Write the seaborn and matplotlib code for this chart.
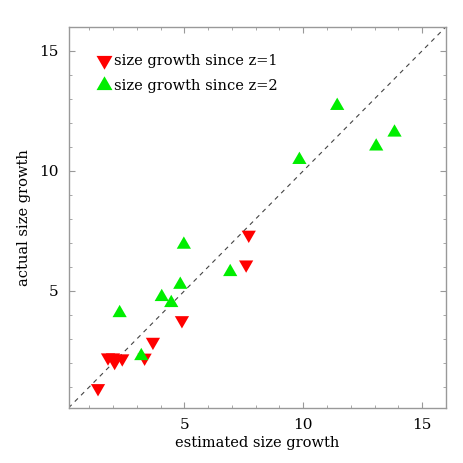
import numpy as np
import pandas as pd
import matplotlib
matplotlib.use('Agg')
import matplotlib.pyplot as plt
from matplotlib.ticker import MultipleLocator
import seaborn as sns

# valori
est_z1 = [1.37, 1.79, 2.00, 2.07, 2.39, 3.33, 3.68, 4.90, 7.60, 7.71]
act_z1 = [0.95, 2.23, 2.23, 2.04, 2.19, 2.22, 2.88, 3.78, 6.10, 7.34]

est_z2 = [2.28, 3.19, 4.05, 4.45, 4.83, 4.98, 6.93, 9.84, 11.43, 13.07, 13.84]
act_z2 = [4.08, 2.29, 4.75, 4.50, 5.26, 6.93, 5.79, 10.46, 12.71, 11.02, 11.60]

labels = ['size growth since z=1', 'size growth since z=2']
lims = [0.13, 16]

df = pd.DataFrame({
    'est': est_z1 + est_z2,
    'act': act_z1 + act_z2,
    'sample': [labels[0]] * len(est_z1) + [labels[1]] * len(est_z2),
})

sns.set_style('ticks')
plt.rcParams['font.family'] = ['DejaVu Serif']
plt.rcParams['text.color'] = 'black'
plt.rcParams['axes.labelcolor'] = 'black'
plt.rcParams['xtick.labelcolor'] = 'black'
plt.rcParams['ytick.labelcolor'] = 'black'

fig = plt.figure(figsize=(4.63, 4.63), dpi=100)
ax = fig.add_axes([0.148, 0.119, 0.815, 0.823])

# triangoli equilateri
tri_down = [(-1, 0.577), (1, 0.577), (0, -1.155)]
tri_up = [(-1, -0.577), (1, -0.577), (0, 1.155)]

sns.scatterplot(data=df, x='est', y='act', hue='sample', style='sample',
                palette={labels[0]: '#ff0000', labels[1]: '#00ee00'},
                markers={labels[0]: tri_down, labels[1]: tri_up},
                s=140, linewidth=0, ax=ax, zorder=3)

# linea 1:1
ax.plot(lims, lims, ls=(0, (4, 4)), color='#444444', lw=0.8, zorder=2)

ax.set_xlim(lims)
ax.set_ylim(lims)
ax.xaxis.set_major_locator(MultipleLocator(5))
ax.yaxis.set_major_locator(MultipleLocator(5))
ax.xaxis.set_minor_locator(MultipleLocator(1))
ax.yaxis.set_minor_locator(MultipleLocator(1))
ax.tick_params(which='both', direction='in', top=True, right=True, color='#999999',
               labelsize=11, pad=7)
ax.tick_params(which='major', length=4)
ax.tick_params(which='minor', length=2.5)
for sp in ax.spines.values():
    sp.set_color('#999999')
    sp.set_linewidth(1.0)

ax.set_xlabel('estimated size growth', fontsize=10.5, labelpad=3)
ax.set_ylabel('actual size growth', fontsize=10.5, labelpad=6)

leg = ax.legend(loc='upper left', bbox_to_anchor=(0.04, 0.945), frameon=False,
                handletextpad=-0.35, labelspacing=0.8, fontsize=10.5,
                markerscale=1.12, borderaxespad=0)

fig.savefig('out.png', dpi=100)
